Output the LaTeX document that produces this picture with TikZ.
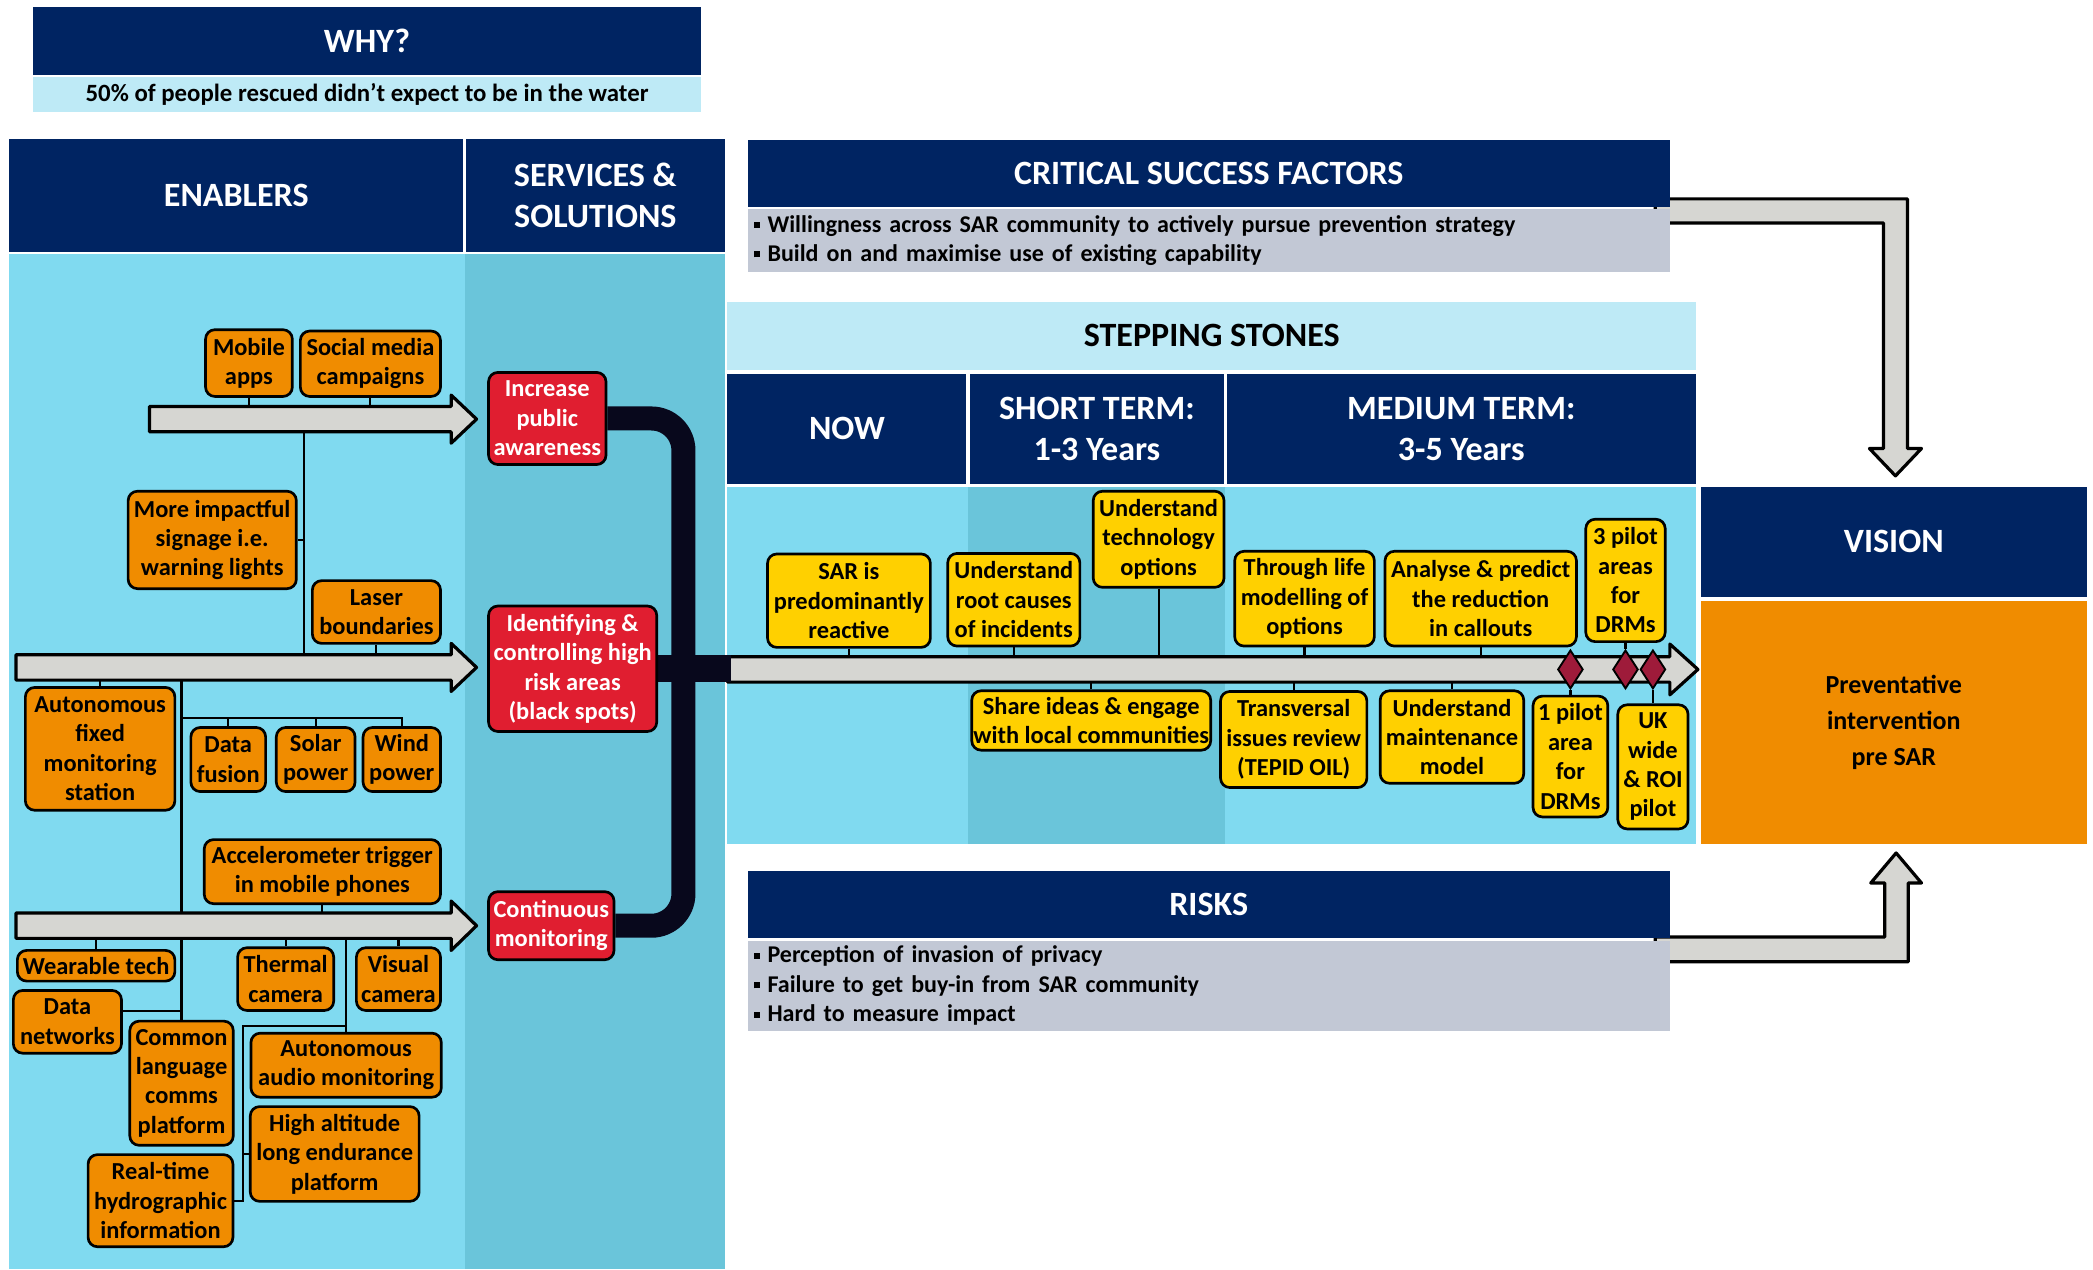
\documentclass[tikz,border=0pt]{standalone}
\usepackage{fontspec}
\setmainfont{Carlito}
\usetikzlibrary{shapes.geometric,calc}
\pgfdeclarelayer{bg}
\pgfsetlayers{bg,main}

\definecolor{navy}{RGB}{0,36,98}
\definecolor{paleblue}{RGB}{190,234,246}
\definecolor{skyblue}{RGB}{128,218,240}
\definecolor{tealblue}{RGB}{106,197,218}
\definecolor{enorange}{RGB}{240,140,0}
\definecolor{stoneyellow}{RGB}{255,208,0}
\definecolor{servred}{RGB}{224,30,48}
\definecolor{slategrey}{RGB}{194,200,213}
\definecolor{arrowgrey}{RGB}{214,214,210}
\definecolor{msred}{RGB}{158,27,58}
\definecolor{busblack}{RGB}{8,8,28}

\newcommand{\sqbullet}{\raisebox{3pt}{\rule{4.5pt}{4.5pt}}\hspace{5.5pt}}

\begin{document}
\begin{tikzpicture}[x=1pt,y=-1pt,
  hdr/.style={fill=navy,text=white,align=center,inner sep=0pt,font=\bfseries\fontsize{25.5}{31}\selectfont},
  strip/.style={fill=paleblue,inner sep=0pt,align=center},
  listbox/.style={fill=slategrey,inner xsep=5pt,inner ysep=0pt,align=left,font=\bfseries\fontsize{18}{22}\selectfont},
  card/.style={draw=black,line width=2pt,rounded corners=7pt,align=center,inner xsep=2pt,inner ysep=1pt,font=\bfseries\fontsize{18.3}{22}\selectfont},
  enabler/.style={card,fill=enorange},
  service/.style={card,fill=servred,text=white},
  stone/.style={card,fill=stoneyellow},
  blockarrow/.style={fill=arrowgrey,draw=black,line width=2.4pt,line join=round},
  link/.style={draw=black,line width=1.6pt},
  bus/.style={draw=busblack,line width=18pt,rounded corners=24pt},
  msdiamond/.style={diamond,draw=black,line width=1.4pt,fill=msred,minimum width=19pt,minimum height=29pt,inner sep=0pt}
]
\useasboundingbox (0,0) rectangle (1568,951);

% ---------- WHY ----------
\node[hdr,minimum width=500pt,minimum height=51pt] (why) at (275,30.5) {WHY?};
\node[strip,minimum width=500pt,minimum height=26pt,font=\bfseries\fontsize{18.6}{22}\selectfont] (whytext) at (275,71) {50\% of people rescued didn’t expect to be in the water};

% ---------- Enablers / services panel ----------
\node[hdr,minimum width=340pt,minimum height=85pt] (enh) at (177,146.5) {ENABLERS};
\node[hdr,minimum width=194pt,minimum height=85pt] (svh) at (446,146.5) {SERVICES \&\\SOLUTIONS};

% enablers
\node[enabler,minimum width=65pt,minimum height=50pt] (mobile) at (186.5,272) {Mobile\\apps};
\node[enabler,minimum width=105pt,minimum height=49pt] (social) at (277.5,272.5) {Social media\\campaigns};
\node[enabler,minimum width=126pt,minimum height=73pt] (signage) at (159,404.5) {More impactful\\signage i.e.\\warning lights};
\node[enabler,minimum width=96pt,minimum height=47pt] (laser) at (282,458.5) {Laser\\boundaries};
\node[enabler,minimum width=112pt,minimum height=92pt] (afms) at (75,561) {Autonomous\\fixed\\monitoring\\station};
\node[enabler,minimum width=56pt,minimum height=48pt] (datafusion) at (171,569) {Data\\fusion};
\node[enabler,minimum width=59pt,minimum height=48pt] (solar) at (236.5,569) {Solar\\power};
\node[enabler,minimum width=58pt,minimum height=48pt] (wind) at (301,569) {Wind\\power};
\node[enabler,minimum width=177pt,minimum height=48pt] (accel) at (241.5,653) {Accelerometer trigger\\in mobile phones};
\node[enabler,minimum width=118pt,minimum height=23pt] (wearable) at (72,723.5) {Wearable tech};
\node[enabler,minimum width=81pt,minimum height=47pt] (datanet) at (50.5,765.5) {Data\\networks};
\node[enabler,minimum width=77.5pt,minimum height=93pt] (common) at (136,811.5) {Common\\language\\comms\\platform};
\node[enabler,minimum width=108.5pt,minimum height=69pt] (realtime) at (120.25,899.5) {Real-time\\hydrographic\\information};
\node[enabler,minimum width=72pt,minimum height=47pt] (thermal) at (214,733.5) {Thermal\\camera};
\node[enabler,minimum width=63pt,minimum height=47pt] (visual) at (298.5,733.5) {Visual\\camera};
\node[enabler,minimum width=142.6pt,minimum height=48pt] (audio) at (259.3,798) {Autonomous\\audio monitoring};
\node[enabler,minimum width=126.5pt,minimum height=71pt] (highalt) at (250.75,864.5) {High altitude\\long endurance\\platform};

% services
\node[service,minimum width=88pt,minimum height=69pt] (awareness) at (410,313.5) {Increase\\public\\awareness};
\node[service,minimum width=126pt,minimum height=94pt] (identify) at (429,501) {Identifying \&\\controlling high\\risk areas\\(black spots)};
\node[service,minimum width=94pt,minimum height=51pt] (contmon) at (413,693.5) {Continuous\\monitoring};

% ---------- Critical success factors ----------
\node[hdr,minimum width=691pt,minimum height=50pt] (csf) at (905.5,130) {CRITICAL SUCCESS FACTORS};
\node[listbox,text width=681pt,minimum height=47pt] (csfbody) at (905.5,180)
  {\sqbullet Willingness across SAR community to actively pursue prevention strategy\\
   \sqbullet Build on and maximise use of existing capability};

% ---------- Stepping stones ----------
\node[strip,minimum width=725.5pt,minimum height=51pt,font=\bfseries\fontsize{25.5}{31}\selectfont] (ss) at (907.75,251.5) {STEPPING STONES};
\node[hdr,minimum width=179pt,minimum height=82.5pt] (now) at (634.5,321.25) {NOW};
\node[hdr,minimum width=190.5pt,minimum height=82.5pt] (short) at (821.75,321.25) {SHORT TERM:\\1-3 Years};
\node[hdr,minimum width=351.5pt,minimum height=82.5pt] (medium) at (1094.75,321.25) {MEDIUM TERM:\\3-5 Years};

\node[stone,minimum width=122pt,minimum height=70pt] (sar) at (636,450) {SAR is\\predominantly\\reactive};
\node[stone,minimum width=99pt,minimum height=69.4pt] (root) at (759.5,449.3) {Understand\\root causes\\of incidents};
\node[stone,minimum width=98pt,minimum height=72pt] (tech) at (868,404) {Understand\\technology\\options};
\node[stone,minimum width=104.6pt,minimum height=71pt] (life) at (977.3,448.5) {Through life\\modelling of\\options};
\node[stone,minimum width=143.4pt,minimum height=71pt] (analyse) at (1109.3,448.5) {Analyse \& predict\\the reduction\\in callouts};
\node[stone,minimum width=59.5pt,minimum height=91.7pt] (pilot3) at (1217.75,434.85) {3 pilot\\areas\\for\\DRMs};
\node[stone,minimum width=179pt,minimum height=44.5pt,inner xsep=1pt] (share) at (817.5,539.75) {Share ideas \& engage\\with local communities};
\node[stone,minimum width=109.6pt,minimum height=72pt] (transversal) at (969.2,554) {Transversal\\issues review\\(TEPID OIL)};
\node[stone,minimum width=107.5pt,minimum height=69.3pt] (maint) at (1087.75,552.15) {Understand\\maintenance\\model};
\node[stone,minimum width=56pt,minimum height=90.5pt] (pilot1) at (1176.5,566.75) {1 pilot\\area\\for\\DRMs};
\node[stone,minimum width=52.6pt,minimum height=93pt] (ukwide) at (1238.3,574.5) {UK\\wide\\\& ROI\\pilot};

\node[msdiamond] (m1) at (1176.5,501.5) {};
\node[msdiamond] (m2) at (1217.75,501.5) {};
\node[msdiamond] (m3) at (1238.3,501.5) {};

% ---------- Vision ----------
\node[hdr,minimum width=289.5pt,minimum height=82.5pt] (vision) at (1418.75,406) {VISION};
\node[fill=enorange,minimum width=289.5pt,minimum height=182pt,inner sep=0pt,align=center,font=\bfseries\fontsize{19.5}{27}\selectfont] (visionbody) at (1418.75,541.5) {Preventative\\intervention\\pre SAR};

% ---------- Risks ----------
\node[hdr,minimum width=691pt,minimum height=50pt] (risks) at (905.5,677.5) {RISKS};
\node[listbox,text width=681pt,minimum height=67pt] (riskbody) at (905.5,738.5)
  {\sqbullet Perception of invasion of privacy\\
   \sqbullet Failure to get buy-in from SAR community\\
   \sqbullet Hard to measure impact};

% ---------- page, panels, block arrows and the black bus (behind) ----------
\begin{pgfonlayer}{bg}
  \fill[white] (0,0) rectangle (1568,951);
  \fill[skyblue] (7,190) rectangle (348,951);
  \fill[tealblue] (348,190) rectangle (543,951);
  \fill[skyblue] (545,364.5) rectangle (1270.5,632.5);
  \fill[tealblue] (725,364.5) rectangle (917.5,632.5);

  % feeder arrows into the services
  \draw[blockarrow] (112,304.5) -- (338,304.5) -- (338,296) -- (357,314) -- (338,332) -- (338,323.5) -- (112,323.5) -- cycle;
  \draw[blockarrow] (12,490.5) -- (338,490.5) -- (338,482) -- (357,500) -- (338,518) -- (338,509.5) -- (12,509.5) -- cycle;
  \draw[blockarrow] (12,684) -- (338,684) -- (338,675) -- (357,693.5) -- (338,712) -- (338,703) -- (12,703) -- cycle;

  % timeline
  \draw[blockarrow] (545,492) -- (1251,492) -- (1251,482.5) -- (1272,501.5) -- (1251,520.5) -- (1251,511) -- (545,511) -- cycle;

  % factor and risk arrows into the vision
  \draw[blockarrow] (1240,149) -- (1429,149) -- (1429,336) -- (1439.5,336) -- (1420,356.5) -- (1400.5,336) -- (1411,336) -- (1411,167) -- (1240,167) -- cycle;
  \draw[blockarrow] (1240,720.5) -- (1429.5,720.5) -- (1429.5,661.5) -- (1439.5,661.5) -- (1420.5,639) -- (1401.5,661.5) -- (1412,661.5) -- (1412,702) -- (1240,702) -- cycle;

  % black bus joining the services to the timeline
  \coordinate (busx) at (512,500);
  \coordinate (tlstart) at (548,501);
  \draw[bus] (awareness.east) -| (busx) |- (contmon.east);
  \draw[draw=busblack,line width=20pt] (identify.east) -- (tlstart);
\end{pgfonlayer}

% ---------- thin connectors ----------
\coordinate (a1t) at (0,304.5);
\coordinate (a1b) at (0,323.5);
\coordinate (a2t) at (0,490.5);
\coordinate (a2b) at (0,509.5);
\coordinate (a3t) at (0,684);
\coordinate (a3b) at (0,703);
\coordinate (tlt) at (0,492);
\coordinate (tlb) at (0,511);

\draw[link] (mobile.south) -- (mobile.south |- a1t);
\draw[link] (social.south) -- (social.south |- a1t);
\coordinate (spineA) at (228,400);
\draw[link] (spineA |- a1b) -- (spineA |- a2t);
\draw[link] (signage.east) -- (signage.east -| spineA);
\draw[link] (laser.south) -- (laser.south |- a2t);
\draw[link] (afms.north) -- (afms.north |- a2b);
\coordinate (spineB) at (136,538);
\draw[link] (spineB |- a2b) -- (spineB |- a3t);
\draw[link] (spineB) -| (wind.north);
\draw[link] (datafusion.north) -- (datafusion.north |- spineB);
\draw[link] (solar.north) -- (solar.north |- spineB);
\draw[link] (accel.south) -- (accel.south |- a3t);
\draw[link] (wearable.north) -- (wearable.north |- a3b);
\draw[link] (common.north) -- (common.north |- a3b);
\coordinate (dnj) at ($(datanet.east)+(0,-8)$);
\draw[link] (dnj) -- (dnj -| common.north);
\draw[link] (thermal.north) -- (thermal.north |- a3b);
\draw[link] (visual.north) -- (visual.north |- a3b);
\draw[link] (audio.north) -- (audio.north |- a3b);
\coordinate (spineC) at (182,768.5);
\draw[link] (spineC -| audio.north) -- (spineC) |- (realtime.east);
\draw[link] (highalt.west) -- (highalt.west -| spineC);

\draw[link] (sar.south) -- (sar.south |- tlt);
\draw[link] (root.south) -- (root.south |- tlt);
\draw[link] (tech.south) -- (tech.south |- tlt);
\draw[link] (life.south) -- (life.south |- tlt);
\draw[link] (analyse.south) -- (analyse.south |- tlt);
\draw[link] (share.north) -- (share.north |- tlb);
\draw[link] (transversal.north) -- (transversal.north |- tlb);
\draw[link] (maint.north) -- (maint.north |- tlb);
\draw[link] (pilot3.south) -- (m2.north);
\draw[link] (pilot1.north) -- (m1.south);
\draw[link] (ukwide.north) -- (m3.south);
\end{tikzpicture}
\end{document}
